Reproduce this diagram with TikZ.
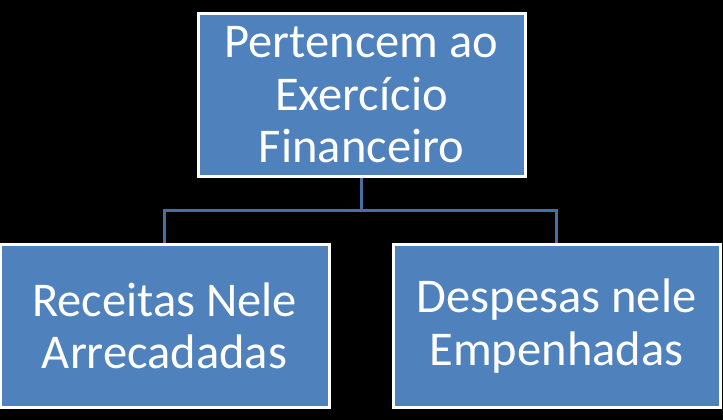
\documentclass[tikz,border=0pt]{standalone}
\usepackage{fontspec}
\setmainfont{Carlito}
\definecolor{boxblue}{HTML}{4F81BD}
\definecolor{linkblue}{HTML}{4A6DA7}
\begin{document}
\begin{tikzpicture}[x=1pt,y=-1pt,
  box/.style={draw=white,line width=3pt,fill=boxblue,text=white,align=center,inner sep=0pt,
    minimum height=163pt,font=\fontsize{48.5}{52.5}\selectfont},
  link/.style={draw=linkblue,line width=3pt}]
\fill[black] (0,0) rectangle (723,420);
\useasboundingbox (0,0) rectangle (723,420);
\node[box,minimum width=327pt] (top) at (361.5,95) {Pertencem ao\\Exercício\\Financeiro};
\node[box,minimum width=329pt] (left) at (164.5,326) {Receitas Nele\\Arrecadadas};
\node[box,minimum width=327pt] (right) at (556.5,326) {Despesas nele\\Empenhadas};
\coordinate (mid) at (361.5,210);
\draw[link] (top.south) -- (mid);
\draw[link] (left.north) -- (left.north |- mid) -- (right.north |- mid) -- (right.north);
\end{tikzpicture}
\end{document}
